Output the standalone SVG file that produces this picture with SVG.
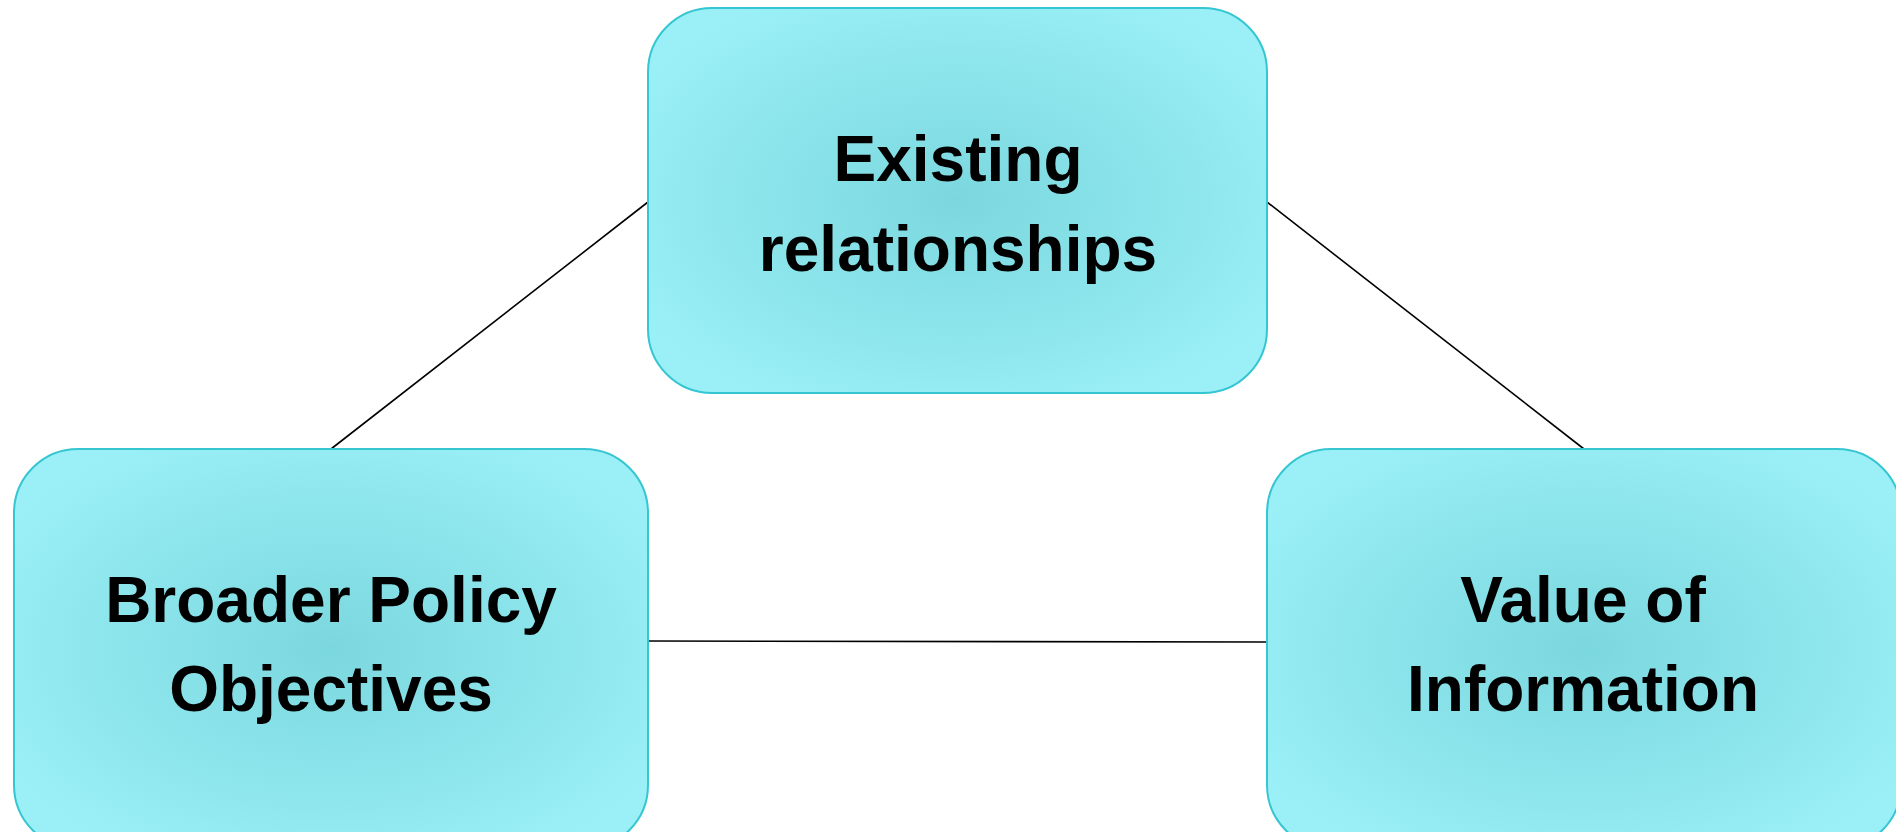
<svg xmlns="http://www.w3.org/2000/svg" width="1896" height="832" viewBox="0 0 1896 832">
  <defs>
    <radialGradient id="fillGrad" cx="50%" cy="50%" r="60%">
      <stop offset="0%" stop-color="#7bd7de"/>
      <stop offset="100%" stop-color="#9af0f6"/>
    </radialGradient>
    <style>
      .box { fill: url(#fillGrad); stroke: #35c6d2; stroke-width: 2; }
      .lbl { font-family: "Liberation Sans", Arial, sans-serif; font-weight: bold; font-size: 64px; fill: #000000; text-anchor: middle; }
      .conn { stroke: #000000; stroke-width: 1.6; fill: none; }
    </style>
  </defs>
  <rect width="1896" height="832" fill="#ffffff"/>
  <g id="connectors">
    <line class="conn" x1="648" y1="202" x2="331" y2="449"/>
    <line class="conn" x1="1267" y1="202" x2="1584" y2="449"/>
    <line class="conn" x1="648" y1="641" x2="1267" y2="642"/>
  </g>
  <g id="node-existing">
    <rect class="box" x="648" y="8" width="619" height="385" rx="64" ry="64"/>
    <text class="lbl" x="958" y="181">Existing</text>
    <text class="lbl" x="958" y="271">relationships</text>
  </g>
  <g id="node-broader">
    <rect class="box" x="14" y="449" width="634" height="400" rx="64" ry="64"/>
    <text class="lbl" x="331" y="622">Broader Policy</text>
    <text class="lbl" x="331" y="711">Objectives</text>
  </g>
  <g id="node-value">
    <rect class="box" x="1267" y="449" width="634" height="400" rx="64" ry="64"/>
    <text class="lbl" x="1583" y="622">Value of</text>
    <text class="lbl" x="1583" y="711">Information</text>
  </g>
</svg>
